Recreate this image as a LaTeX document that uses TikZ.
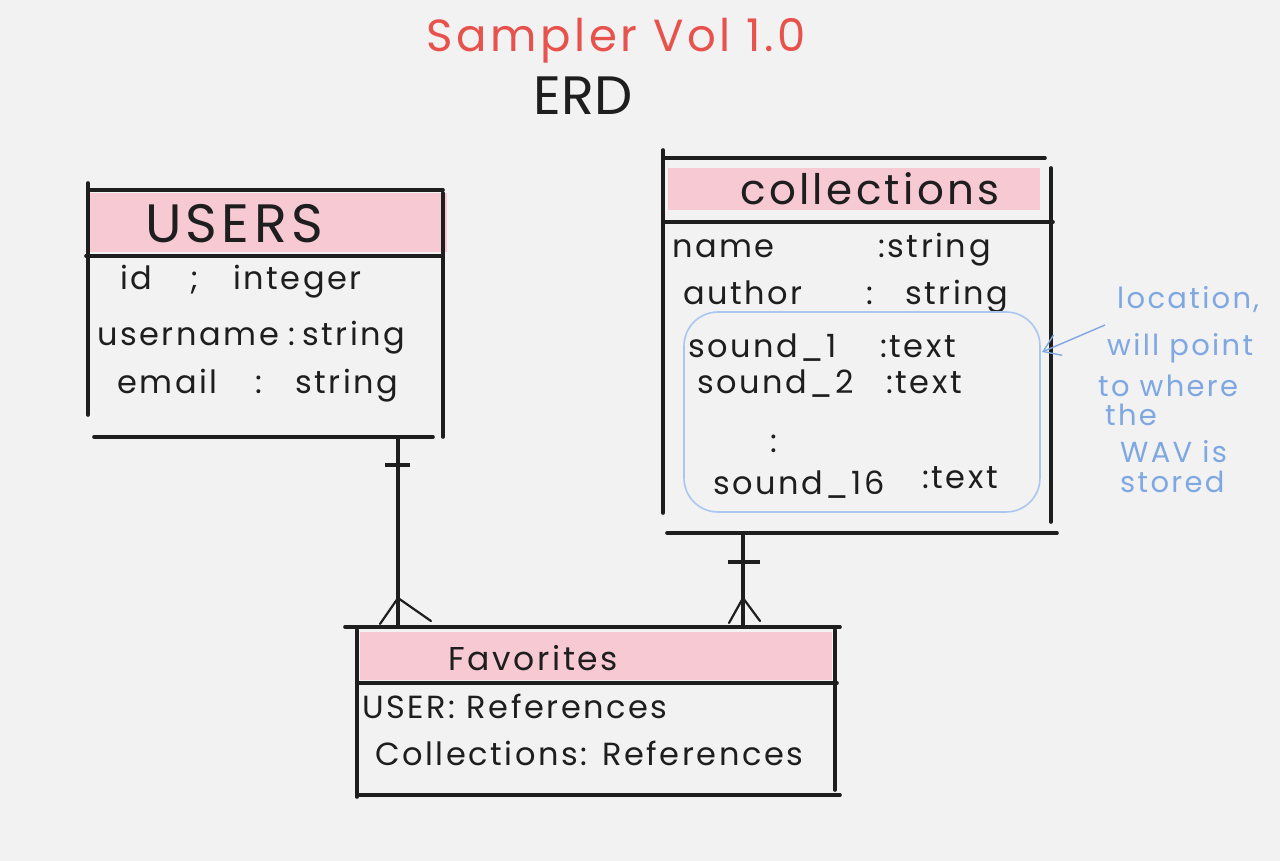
\documentclass[tikz,border=0pt]{standalone}
\usepackage{fontspec}
\setmainfont{Poppins}
\newfontfamily\handfont[LetterSpace=8]{Poppins}
\usetikzlibrary{arrows.meta}
\definecolor{bg}{HTML}{F2F2F2}
\definecolor{ink}{HTML}{1E1E1E}
\definecolor{pinkfill}{HTML}{F6C9D3}
\definecolor{titlered}{HTML}{E8524C}
\definecolor{noteblue}{HTML}{7FA8E2}
\definecolor{boxblue}{HTML}{ABC7EE}
\newcommand\fldfont{\handfont\fontsize{32}{38}\selectfont}
\newcommand\notefont{\handfont\fontsize{29}{34}\selectfont}
\begin{document}
\begin{tikzpicture}[x=1pt,y=-1pt,
  rule/.style={line width=3.6pt, draw=ink, line cap=round},
  hdrfill/.style={fill=pinkfill, draw=none},
  fld/.style={anchor=base west, font=\fldfont, inner sep=0pt, text=ink},
  hdr/.style={anchor=base west, inner sep=0pt, text=ink},
  note/.style={anchor=base west, font=\notefont, inner sep=0pt, text=noteblue},
  conn/.style={line width=3.6pt, draw=ink},
  foot/.style={line width=2.2pt, draw=ink, line cap=round}]
\useasboundingbox[fill=bg] (0,0) rectangle (1280,861);

% title
\node[anchor=base, inner sep=0pt, text=titlered, font=\handfont\fontsize{45}{50}\selectfont] (title) at (616,52) {Sampler Vol 1.0};
\node[anchor=base, inner sep=0pt, text=ink, font=\fontsize{54}{60}\selectfont] (erd) at (583,115) {ERD};

% ---------- USERS ----------
\fill[hdrfill] (88,193) rectangle (447,252);
\draw[rule] (88,183) -- (88,415);
\draw[rule] (90,190) -- (443,190);
\draw[rule] (443,193) -- (443,437);
\draw[rule] (86,256) -- (443,256);
\draw[rule] (94,437) -- (433,437);
\node[hdr, font=\handfont\fontsize{54}{60}\selectfont] (usersT) at (145,243) {USERS};
\node[fld] (u1a) at (120,290) {id};
\node[fld] (u1b) at (190,290) {;};
\node[fld] (u1c) at (233,290) {integer};
\node[fld] (u2a) at (97,345) {username};
\node[fld] (u2b) at (288,345) {:};
\node[fld] (u2c) at (302,345) {string};
\node[fld] (u3a) at (117,393) {email};
\node[fld] (u3b) at (255,393) {:};
\node[fld] (u3c) at (295,393) {string};

% ---------- collections ----------
\fill[hdrfill] (668,168) rectangle (1040,210);
\draw[rule] (663,150) -- (663,513);
\draw[rule] (665,158) -- (1045,158);
\draw[rule] (1051,168) -- (1051,522);
\draw[rule] (663,222) -- (1053,222);
\draw[rule] (667,533) -- (1057,533);
\node[hdr, font=\handfont\fontsize{42}{48}\selectfont] (colT) at (740,205) {collections};
\node[fld] (c1a) at (672,258) {name};
\node[fld] (c1b) at (878,258) {:string};
\node[fld] (c2a) at (683,305) {author};
\node[fld] (c2b) at (866,305) {:};
\node[fld] (c2c) at (905,305) {string};
\draw[boxblue, line width=1.6pt, rounded corners=34pt] (684,312) rectangle (1040,512);
\node[fld] (c3a) at (688,357) {sound\_1};
\node[fld] (c3b) at (880,357) {:text};
\node[fld] (c4a) at (697,393) {sound\_2};
\node[fld] (c4b) at (886,393) {:text};
\node[fld] (c5) at (770,452) {:};
\node[fld] (c6a) at (713,494) {sound\_16};
\node[fld] (c6b) at (922,488) {:text};

% ---------- Favorites ----------
\fill[hdrfill] (360,632) rectangle (832,680);
\draw[rule] (345,627) -- (840,627);
\draw[rule] (357,630) -- (357,797);
\draw[rule] (835,630) -- (835,790);
\draw[rule] (357,683) -- (837,683);
\draw[rule] (357,795) -- (840,795);
\node[hdr, font=\handfont\fontsize{33}{40}\selectfont] (favT) at (448,670) {Favorites};
\node[fld] (f1) at (362,718) {USER: References};
\node[fld] (f2) at (375,765) {Collections: References};

% ---------- relationships ----------
\coordinate (ub) at (398,437);
\coordinate (ft1) at (398,627);
\coordinate (cb) at (743,533);
\coordinate (ft2) at (743,627);
\coordinate (uf) at (398,598);
\coordinate (cf) at (743,598);
\draw[conn] (ub) -- (ft1);
\draw[conn] (385,465) -- (410,465);
\draw[foot] (uf) -- ++(-18,26);
\draw[foot] (uf) -- ++(33,23);
\draw[conn] (cb) -- (ft2);
\draw[conn] (728,562) -- (760,562);
\draw[foot] (cf) -- ++(-14,25);
\draw[foot] (cf) -- ++(17,23);

% ---------- note ----------
\node[note] (n1) at (1117,308) {location,};
\node[note] (n2) at (1107,355) {will point};
\node[note] (n3) at (1098,396) {to where};
\node[note] (n4) at (1105,425) {the};
\node[note] (n5) at (1120,462) {WAV is};
\node[note] (n6) at (1120,492) {stored};
\coordinate (ntip) at (1042,352);
\draw[noteblue, line width=1.4pt, -{Straight Barb[length=16pt,width=22pt]}] (1105,325) -- (ntip);
\end{tikzpicture}
\end{document}
